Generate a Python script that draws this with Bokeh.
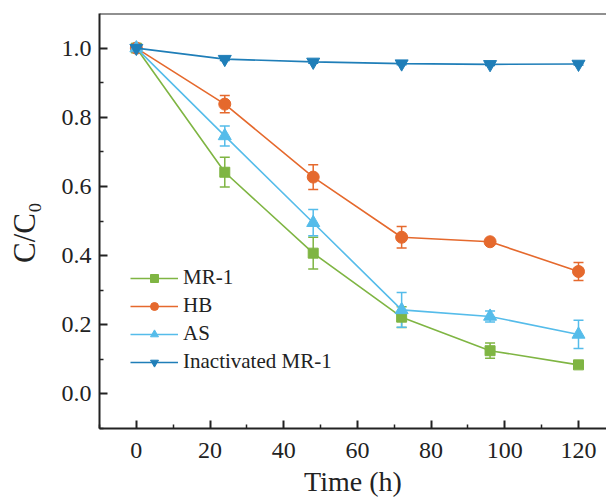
from bokeh.plotting import figure
from bokeh.models import (ColumnDataSource, Whisker, TeeHead, Legend, LegendItem,
                          Span, FixedTicker, Range1d, PrintfTickFormatter, LinearAxis)
from bokeh.embed import file_html
from bokeh.resources import INLINE

# ---- data ----
time_h = [0, 24, 48, 72, 96, 120]
mr1 = [1.0, 0.641, 0.407, 0.222, 0.125, 0.084]
mr1_err = [0.0, 0.043, 0.046, 0.03, 0.022, 0.008]
hb = [1.0, 0.838, 0.627, 0.453, 0.44, 0.354]
hb_err = [0.0, 0.025, 0.036, 0.031, 0.006, 0.026]
as_ = [1.0, 0.746, 0.495, 0.243, 0.224, 0.172]
as_err = [0.0, 0.029, 0.038, 0.05, 0.016, 0.041]
inact = [1.0, 0.968, 0.960, 0.955, 0.953, 0.954]
inact_err = [0.0, 0.004, 0.004, 0.003, 0.003, 0.003]

series_names = ["MR-1", "HB", "AS", "Inactivated MR-1"]
x_ticks = [0, 20, 40, 60, 80, 100, 120]
x_minor = [-10, 10, 30, 50, 70, 90, 110]
y_ticks = [0.0, 0.2, 0.4, 0.6, 0.8, 1.0]
y_minor = [-0.1, 0.1, 0.3, 0.5, 0.7, 0.9]

colors = ["#7FB543", "#E5692D", "#55BCEA", "#1F7EB8"]
markers = ["square", "circle", "triangle", "inverted_triangle"]
sizes = [10, 12, 13, 13]

FONT = "Liberation Serif"
INK = "#222222"

p = figure(width=606, height=499, output_backend="svg", toolbar_location=None,
           x_range=Range1d(-10, 127.6), y_range=Range1d(-0.1, 1.1),
           x_axis_type=None, y_axis_type=None,
           min_border_left=99, min_border_right=0, min_border_top=13,
           min_border_bottom=70)
p.outline_line_color = None
p.grid.visible = False
p.background_fill_color = "white"
p.border_fill_color = "white"

common = dict(axis_line_width=2, axis_line_color=INK,
              major_tick_line_width=2, major_tick_line_color=INK,
              minor_tick_line_width=1.5, minor_tick_line_color=INK,
              major_tick_in=8, major_tick_out=0, minor_tick_in=4, minor_tick_out=0,
              major_label_text_font=FONT, major_label_text_font_size="24px",
              major_label_text_font_style="normal", major_label_text_color=INK,
              axis_label_text_font=FONT, axis_label_text_font_style="normal",
              axis_label_text_color=INK)

xaxis = LinearAxis(ticker=FixedTicker(ticks=x_ticks, minor_ticks=x_minor),
                   major_label_standoff=14, axis_label="Time (h)",
                   axis_label_text_font_size="28px", axis_label_standoff=5, **common)
yaxis = LinearAxis(ticker=FixedTicker(ticks=y_ticks, minor_ticks=y_minor),
                   formatter=PrintfTickFormatter(format="%.1f"),
                   major_label_standoff=8, axis_label="C/C\u2080\u00a0\u00a0\u00a0",
                   axis_label_text_font_size="31px", axis_label_standoff=17, **common)
p.add_layout(xaxis, "below")
p.add_layout(yaxis, "left")

# top frame line
p.add_layout(Span(location=1.1, dimension="width", line_color=INK, line_width=2))

items = []
all_vals = [mr1, hb, as_, inact]
all_errs = [mr1_err, hb_err, as_err, inact_err]
for name, vals, errs, col, mk, sz in zip(series_names, all_vals, all_errs, colors, markers, sizes):
    src = ColumnDataSource(dict(x=time_h, y=vals,
                                lo=[v - e for v, e in zip(vals, errs)],
                                hi=[v + e for v, e in zip(vals, errs)]))
    w = Whisker(source=src, base="x", lower="lo", upper="hi",
                line_color=col, line_width=1.5,
                upper_head=TeeHead(size=10, line_color=col, line_width=1.5),
                lower_head=TeeHead(size=10, line_color=col, line_width=1.5))
    p.add_layout(w)
    ln = p.line("x", "y", source=src, line_color=col, line_width=1.6)
    sc = p.scatter("x", "y", source=src, marker=mk, size=sz,
                   fill_color=col, line_color=col)
    items.append(LegendItem(label=name, renderers=[ln, sc]))

legend = Legend(items=items, location=(31, 54), padding=0, margin=0,
                spacing=3, glyph_width=48, glyph_height=20, label_height=20,
                label_standoff=5, label_text_font=FONT, label_text_font_size="21px",
                label_text_color=INK, border_line_color=None,
                background_fill_alpha=0)
p.add_layout(legend, "center")

open("out.html", "w").write(file_html(p, INLINE))
